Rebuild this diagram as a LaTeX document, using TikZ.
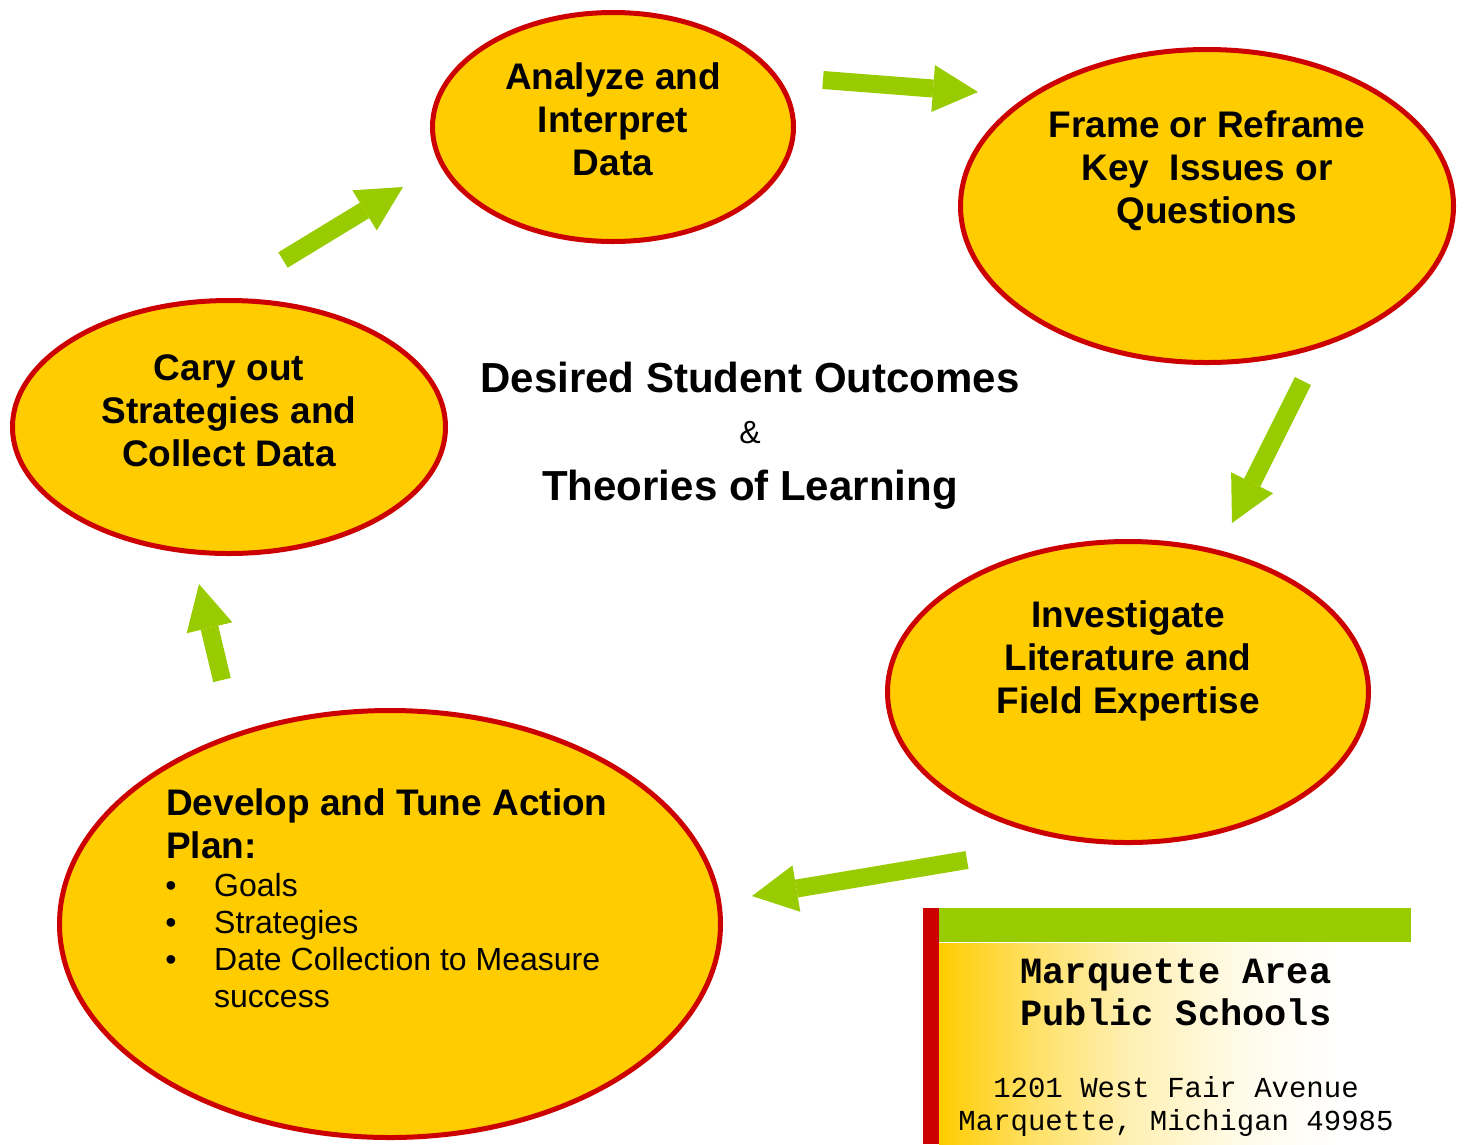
\documentclass[tikz,border=0pt]{standalone}
\usepackage{fontspec}
\setmainfont{Liberation Sans}
\setmonofont{Liberation Mono}
\usetikzlibrary{shapes.geometric,arrows.meta}
\definecolor{gold}{HTML}{FFCC00}
\definecolor{bord}{HTML}{CC0000}
\definecolor{lime}{HTML}{99CC00}
\pgfdeclarehorizontalshading{boxfade}{100bp}{color(0bp)=(gold); color(25bp)=(gold); color(35bp)=(gold!60!white); color(45bp)=(gold!30!white); color(57.5bp)=(gold!8!white); color(67.5bp)=(white); color(100bp)=(white)}
\begin{document}
\begin{tikzpicture}[x=1pt,y=-1pt,
  bubble/.style={ellipse, draw=bord, line width=5pt, fill=gold, inner sep=0pt},
  btext/.style={font=\fontsize{37}{43}\selectfont\bfseries, align=center, inner sep=0pt},
  listtext/.style={font=\fontsize{32}{37}\selectfont, anchor=base west, inner sep=0pt},
  bul/.style={font=\fontsize{32}{37}\selectfont, anchor=base, inner sep=0pt},
  blockarrow/.style={draw=lime, line width=18pt, line cap=butt, -{Triangle[width=47pt,length=45pt,line width=0pt]}},
  monob/.style={font=\fontsize{37}{40}\selectfont\ttfamily\bfseries, anchor=base, inner sep=0pt},
  monor/.style={font=\fontsize{29}{33}\selectfont\ttfamily, anchor=base, inner sep=0pt},
  ctitle/.style={font=\fontsize{42}{48}\selectfont\bfseries, anchor=base, inner sep=0pt}
]
\fill[white] (0,0) rectangle (1469,1144);
\useasboundingbox (0,0) rectangle (1469,1144);

% ellipses
\node[bubble, minimum width=361pt, minimum height=229pt] (e1) at (613,127) {};
\node[bubble, minimum width=493pt, minimum height=313pt] (e2) at (1207,206) {};
\node[bubble, minimum width=481pt, minimum height=301pt] (e3) at (1128,692) {};
\node[bubble, minimum width=661pt, minimum height=427pt] (e4) at (390,924) {};
\node[bubble, minimum width=433pt, minimum height=253pt] (e5) at (229,427) {};

% ellipse texts
\node[btext] (t1) at (613,119) {Analyze and\\Interpret\\Data};
\node[btext] (t2) at (1207,171) {Frame or Reframe\\Key\ \ Issues or\\Questions};
\node[btext] (t3) at (1128,661) {Investigate\\Literature and\\Field Expertise};
\node[btext] (t5) at (229,411) {Cary out\\Strategies and\\Collect Data};

\node[btext, anchor=base west] (t4a) at (166,815) {Develop and Tune Action};
\node[btext, anchor=base west] (t4b) at (166,858) {Plan:};
\node[bul] (b1) at (171,896) {\textbullet};
\node[listtext] (l1) at (214,896) {Goals};
\node[bul] (b2) at (171,933) {\textbullet};
\node[listtext] (l2) at (214,933) {Strategies};
\node[bul] (b3) at (171,970) {\textbullet};
\node[listtext] (l3) at (214,970) {Date Collection to Measure};
\node[listtext] (l4) at (214,1007) {success};

% center text
\node[ctitle] (c1) at (750,392) {Desired Student Outcomes};
\node[font=\fontsize{32}{37}\selectfont, anchor=base, inner sep=0pt] (c2) at (750,443) {\&};
\node[ctitle] (c3) at (750,500) {Theories of Learning};

% arrows
\coordinate (a1s) at (823,80);   \coordinate (a1e) at (978,92);
\coordinate (a2s) at (1303,381); \coordinate (a2e) at (1232,523);
\coordinate (a3s) at (967,860);  \coordinate (a3e) at (752,896);
\coordinate (a4s) at (222,680);  \coordinate (a4e) at (199,584);
\coordinate (a5s) at (283,260);  \coordinate (a5e) at (403,187);
\draw[blockarrow] (a1s) -- (a1e);
\draw[blockarrow] (a2s) -- (a2e);
\draw[blockarrow] (a3s) -- (a3e);
\draw[blockarrow] (a4s) -- (a4e);
\draw[blockarrow] (a5s) -- (a5e);

% address box
\fill[bord] (923,908) rectangle (939,1144);
\fill[lime] (939,908) rectangle (1411,942);
\shade[shading=boxfade] (939,943) rectangle (1411,1144);
\node[monob] (m1) at (1176,983) {Marquette Area};
\node[monob] (m2) at (1176,1025) {Public Schools};
\node[monor] (m3) at (1176,1097) {1201 West Fair Avenue};
\node[monor] (m4) at (1176,1130) {Marquette, Michigan 49985};
\end{tikzpicture}
\end{document}
